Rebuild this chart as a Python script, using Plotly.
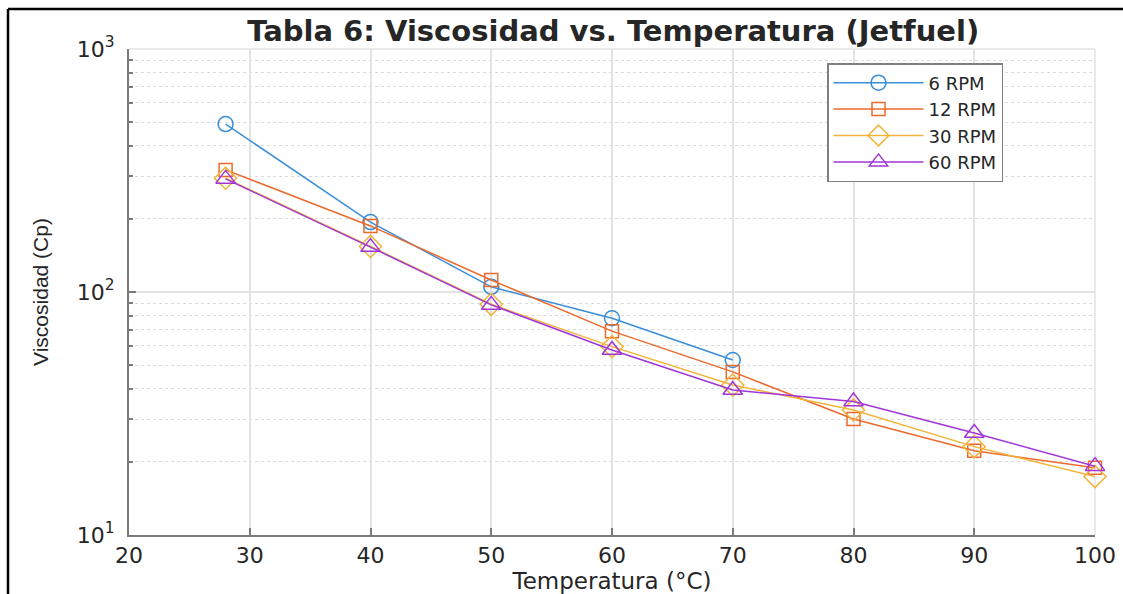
import plotly.graph_objects as go

temps_6 = [28, 40, 50, 60, 70]
visc_6 = [491, 194, 105, 78, 52.5]

temps = [28, 40, 50, 60, 70, 80, 90, 100]
visc_12 = [318, 187, 112, 69, 46.9, 30, 22.2, 18.9]
visc_30 = [294, 154, 89, 59.6, 41.4, 32.7, 23.1, 17.4]
visc_60 = [292, 153, 88.5, 57.7, 39.5, 35.4, 26.3, 19.2]

names = ["6 RPM", "12 RPM", "30 RPM", "60 RPM"]
colors = ["#3A8ED8", "#EC6A2C", "#F2B53A", "#A035D8"]
symbols = ["circle-open", "square-open", "diamond-open", "triangle-up-open"]
sizes = [15, 13, 17, 17]

x_ticks = [20, 30, 40, 50, 60, 70, 80, 90, 100]
y_ticks = [10, 100, 1000]
y_ticktext = ["10<sup>1</sup>", "10<sup>2</sup>", "10<sup>3</sup>"]
y_minor = [20, 30, 40, 50, 60, 70, 80, 90, 200, 300, 400, 500, 600, 700, 800, 900]

L, R, T, B = 129, 28, 49, 59
W, H = 1123, 594
pw, ph = W - L - R, H - T - B

def px(x):
    return (x - L) / pw

def py(y):
    return (H - B - y) / ph

fig = go.Figure()
series = [(temps_6, visc_6), (temps, visc_12), (temps, visc_30), (temps, visc_60)]
for (xs, ys), n, c, s, sz in zip(series, names, colors, symbols, sizes):
    fig.add_trace(go.Scatter(
        x=xs, y=ys, name=n, mode="lines+markers",
        line=dict(color=c, width=1.5),
        marker=dict(symbol=s, size=sz, color=c, line=dict(width=1.5, color=c)),
        cliponaxis=False,
    ))

font_main = "DejaVu Sans, Liberation Sans, Arial, sans-serif"

fig.update_layout(
    width=W, height=H,
    margin=dict(l=L, r=R, t=T, b=B, autoexpand=False),
    paper_bgcolor="white", plot_bgcolor="white",
    font=dict(family=font_main, color="#262626", size=20),
    title=dict(text="<b>Tabla 6: Viscosidad vs. Temperatura (Jetfuel)</b>",
               x=0.546, xanchor="center", y=1 - 31 / H, yanchor="middle",
               font=dict(size=29, color="#262626")),
    showlegend=True,
    legend=dict(x=px(827), y=py(63), xanchor="left", yanchor="top",
                bgcolor="white", bordercolor="#7F7F7F", borderwidth=1.5,
                font=dict(size=18, color="#262626"), itemwidth=90,
                tracegroupgap=0),
    xaxis=dict(range=[20, 100], tickvals=x_ticks, ticktext=[str(v) for v in x_ticks],
               automargin=False,
               showgrid=True, gridcolor="#E3E3E3", gridwidth=1.5,
               showline=True, linecolor="#7A7A7A", linewidth=2,
               ticks="inside", ticklen=7, tickcolor="#7A7A7A", tickwidth=1.5,
               zeroline=False,
               title=dict(text="Temperatura (°C)", standoff=0, font=dict(size=23)),
               tickfont=dict(size=22)),
    yaxis=dict(type="log", range=[1, 3], tickvals=y_ticks, ticktext=y_ticktext,
               automargin=False,
               showgrid=True, gridcolor="#E3E3E3", gridwidth=1.5,
               showline=True, linecolor="#7A7A7A", linewidth=2,
               ticks="inside", ticklen=7, tickcolor="#7A7A7A", tickwidth=1.5,
               zeroline=False, ticklabelstandoff=8,
               minor=dict(tickvals=y_minor, ticks="inside", ticklen=4,
                          tickcolor="#7A7A7A", showgrid=True,
                          gridcolor="#DADADA", griddash="dot", gridwidth=1),
               title=dict(text="Viscosidad (Cp)", standoff=22,
                          font=dict(size=21, family="Liberation Sans, Arial, sans-serif")),
               tickfont=dict(size=22)),
    shapes=[
        dict(type="line", xref="paper", yref="paper", x0=0, x1=1, y0=1, y1=1,
             line=dict(color="#E3E3E3", width=1.5), layer="below"),
        dict(type="line", xref="paper", yref="paper", x0=1, x1=1, y0=0, y1=1,
             line=dict(color="#E3E3E3", width=1.5), layer="below"),
        dict(type="line", xref="paper", yref="paper", x0=px(8), x1=px(W + 5), y0=py(9), y1=py(9),
             line=dict(color="black", width=2.5)),
        dict(type="line", xref="paper", yref="paper", x0=px(8), x1=px(8), y0=py(9), y1=py(H + 5),
             line=dict(color="black", width=2.5)),
    ],
)

fig.write_html("out.html")
